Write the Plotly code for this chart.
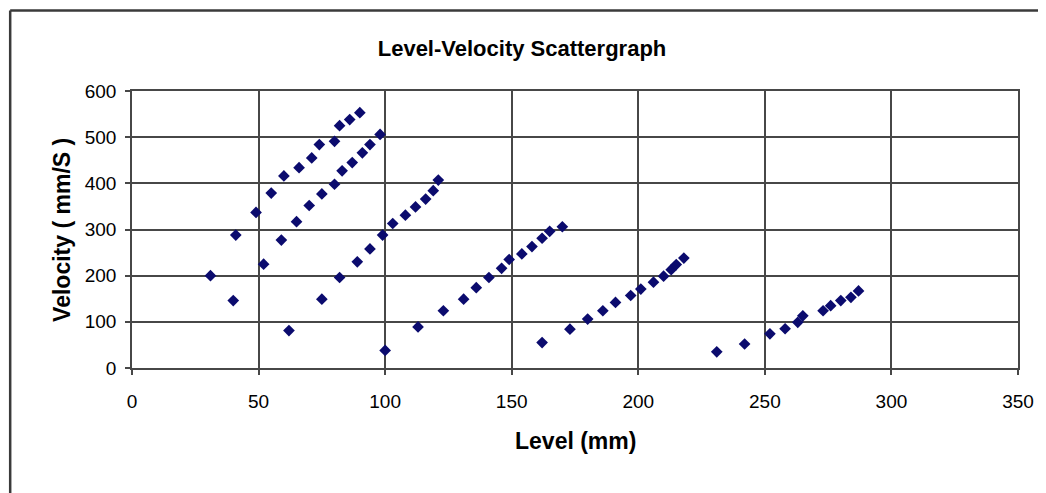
import plotly.graph_objects as go

# Level (mm) and Velocity (mm/S) readings
level = [31, 41, 49, 55, 60, 66, 71, 74, 80, 82, 86, 90,
         40, 52, 59, 65, 70, 75, 80, 83, 87, 91, 94, 98,
         62, 75, 82, 89, 94, 99, 103, 108, 112, 116, 119, 121,
         100, 113, 123, 131, 136, 141, 146, 149, 154, 158, 162, 165, 170,
         162, 173, 180, 186, 191, 197, 201, 206, 210, 213, 215, 218,
         231, 242, 252, 258, 263, 265, 273, 276, 280, 284, 287]
velocity = [200, 288, 337, 379, 416, 434, 455, 484, 491, 525, 538, 553,
            146, 225, 277, 317, 352, 377, 398, 427, 445, 466, 484, 506,
            81, 149, 196, 230, 258, 288, 313, 331, 349, 366, 384, 407,
            38, 89, 124, 149, 174, 196, 216, 235, 247, 263, 281, 296, 306,
            55, 84, 106, 124, 142, 157, 171, 186, 199, 213, 224, 238,
            35, 52, 74, 85, 99, 113, 124, 135, 146, 153, 167]

x_ticks = [0, 50, 100, 150, 200, 250, 300, 350]
y_ticks = [0, 100, 200, 300, 400, 500, 600]

title_text = "Level-Velocity Scattergraph"
x_title = "Level (mm)"
y_title = "Velocity ( mm/S )"

FONT = "Liberation Sans, Arial, sans-serif"
GRID = "#474747"

# page body has an 8px margin, so the figure is offset by 8px
W, H = 1038, 485
L, R, T, B = 124, 23, 83, 125
PW, PH = W - L - R, H - T - B


def px_x(px):
    return (px - L) / PW


def px_y(py):
    return (H - B - py) / PH


fig = go.Figure()
fig.add_trace(go.Scatter(
    x=level, y=velocity, mode="markers",
    marker=dict(symbol="diamond", size=9, color="#0b0b6e", line=dict(width=0)),
    showlegend=False,
))

axis_common = dict(
    showgrid=True, gridcolor=GRID, gridwidth=1.6,
    showline=True, linecolor=GRID, linewidth=1.6, mirror=True,
    ticks="outside", ticklen=5, tickcolor=GRID, tickwidth=1.6,
    zeroline=False,
    tickfont=dict(family=FONT, size=19, color="black"),
)

fig.update_xaxes(range=[0, 350], tickvals=x_ticks, ticklabelstandoff=10, **axis_common)
fig.update_yaxes(range=[0, 600], tickvals=y_ticks, ticklabelstandoff=5, **axis_common)

fig.update_layout(
    width=W, height=H,
    margin=dict(l=L, r=R, t=T, b=B, pad=0),
    paper_bgcolor="white", plot_bgcolor="white",
    title=dict(text=title_text, x=514 / W, xref="container", xanchor="center",
               y=1 - 40 / H, yref="container", yanchor="middle",
               font=dict(family=FONT, size=22, color="black", weight="bold")),
    annotations=[
        dict(text=x_title, xref="paper", yref="paper", x=0.5, y=px_y(433),
             xanchor="center", yanchor="middle", showarrow=False,
             font=dict(family=FONT, size=23, color="black", weight="bold")),
        dict(text=y_title, xref="paper", yref="paper", x=px_x(53), y=0.5,
             xanchor="center", yanchor="middle", showarrow=False, textangle=-90,
             font=dict(family=FONT, size=23, color="black", weight="bold")),
    ],
    shapes=[
        dict(type="line", xref="paper", yref="paper",
             x0=px_x(1.5), y0=px_y(2.5), x1=px_x(1060), y1=px_y(2.5),
             line=dict(color="#3a3a3a", width=2.5)),
        dict(type="line", xref="paper", yref="paper",
             x0=px_x(1.5), y0=px_y(2.5), x1=px_x(1.5), y1=px_y(510),
             line=dict(color="#3a3a3a", width=2.5)),
    ],
)

fig.write_html("out.html")
